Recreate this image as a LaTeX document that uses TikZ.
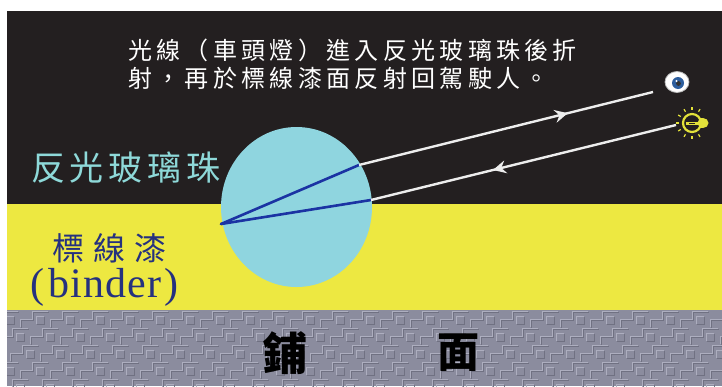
\documentclass[tikz,border=0pt]{standalone}
\usepackage{fontspec}
\setmainfont{Liberation Serif}
\newfontfamily\cjk{Noto Sans CJK TC}
\usetikzlibrary{shapes.geometric,arrows.meta,decorations.markings}

\definecolor{night}{HTML}{231F20}
\definecolor{lane}{HTML}{EDE841}
\definecolor{pave}{HTML}{8B8C9E}
\definecolor{paveLight}{HTML}{ADAEBF}
\definecolor{paveDark}{HTML}{707182}
\definecolor{beadfill}{HTML}{8FD5DF}
\definecolor{ray}{HTML}{1B33A3}
\definecolor{beam}{HTML}{EDEDED}
\definecolor{labelcyan}{HTML}{8ED9D9}
\definecolor{navy}{HTML}{25317F}
\definecolor{lampyellow}{HTML}{E2E13A}
\definecolor{irisblue}{HTML}{2D5E9E}

\tikzset{
  txt/.style={inner sep=0pt, anchor=base west},
  refract/.style={draw=ray, line width=2.6pt, line cap=round},
  beamline/.style={draw=beam, line width=2.4pt},
  midarrow/.style={postaction={decorate}, decoration={markings,
      mark=at position #1 with {\arrow[beam]{Stealth[length=13pt,width=13pt,inset=4.5pt]}}}},
}

\begin{document}
\begin{tikzpicture}[x=1pt,y=-1pt]
  % canvas and layers: night sky, lane marking paint, pavement
  \fill[white] (0,0) rectangle (722,386);
  \useasboundingbox (0,0) rectangle (722,386);
  \fill[night] (7,11) rectangle (722,205);
  \fill[lane] (7,204) rectangle (722,311);

  % pavement texture: embossed stepped blocks
  \begin{scope}
    \clip (7,310) rectangle (722,386);
    \fill[pave] (7,310) rectangle (722,386);
    \foreach \r in {0,...,4}{
      \foreach \c in {0,...,25}{
        \pgfmathsetmacro\xx{-10+30*\c+10*mod(\r,3)}
        \pgfmathsetmacro\yy{311+17*\r}
        % stepped ridge
        \draw[paveDark, line width=1pt] (\xx+1,\yy+17) |- (\xx+13,\yy+9) |- (\xx+29,\yy+1);
        \draw[paveLight, line width=1pt] (\xx,\yy+16) |- (\xx+12,\yy+8) |- (\xx+28,\yy);
        % small raised square
        \draw[paveLight, line width=0.8pt] (\xx+16,\yy+13) |- (\xx+24,\yy+5);
        \draw[paveDark, line width=0.8pt] (\xx+16.5,\yy+13.5) -| (\xx+24.5,\yy+5.5);
      }
    }
  \end{scope}

  % glass bead
  \node[ellipse, fill=beadfill, minimum width=151pt, minimum height=160pt, inner sep=0pt] (bead) at (296.5,207) {};

  % points where light meets the bead surface
  \coordinate (back) at (221,224);
  \coordinate (outpt) at (359,165);
  \coordinate (inpt) at (371,200);
  \coordinate (eyeend) at (653,92);
  \coordinate (lampend) at (676,125);

  % light path inside the bead
  \draw[refract] (back) -- (outpt);
  \draw[refract] (back) -- (inpt);

  % incoming and returning beams
  \draw[beamline, midarrow=0.71] (outpt) -- (eyeend);
  \draw[beamline, midarrow=0.60] (lampend) -- (inpt);

  % driver's eye
  \node[ellipse, fill=white, draw=gray!55, line width=0.8pt, minimum width=24pt, minimum height=21pt, inner sep=0pt] (eye) at (677,82) {};
  \fill[irisblue] (678,83) circle (6pt);
  \fill[black!80] (678.5,83.5) circle (2.4pt);
  \fill[white] (676.5,81) circle (1.1pt);

  % headlamp
  \node[circle, draw=lampyellow, line width=2.2pt, minimum size=18pt, inner sep=0pt] (lamp) at (692,123) {};
  \fill[lampyellow] (699,118) rectangle (703,128);
  \fill[lampyellow] (703,123) ellipse [x radius=5.5pt, y radius=5pt];
  \draw[lampyellow, line width=3pt] (686,123) -- (699,123);
  \draw[night, line width=0.8pt] (689,123) -- (695,123);
  \foreach \a in {60,90,...,300}{
    \draw[lampyellow, line width=1.2pt] (lamp.center) ++(\a:13pt) -- ++(\a:3pt);
  }

  % caption
  \node[txt, text=white, font=\cjk\fontsize{24}{28}\selectfont\addfontfeature{LetterSpace=18}] (title1) at (128,59) {光線（車頭燈）進入反光玻璃珠後折};
  \node[txt, text=white, font=\cjk\fontsize{24}{28}\selectfont\addfontfeature{LetterSpace=18}] (title2) at (128,87) {射，再於標線漆面反射回駕駛人。};

  % layer labels
  \node[txt, text=labelcyan, font=\cjk\fontsize{34}{40}\selectfont\addfontfeature{LetterSpace=14}] (beadlabel) at (31,180) {反光玻璃珠};
  \node[txt, text=navy, font=\cjk\fontsize{32}{38}\selectfont\addfontfeature{LetterSpace=28}] (paintlabel) at (52,260) {標線漆};
  \node[txt, text=navy, font=\fontsize{42}{48}\selectfont\addfontfeature{LetterSpace=3}] (binderlabel) at (30,297) {(\kern4pt binder\kern3pt)};
  \node[inner sep=0pt, font=\cjk\bfseries\fontsize{45}{50}\selectfont] (pave1) at (285,353) {鋪};
  \node[inner sep=0pt, font=\cjk\bfseries\fontsize{42}{50}\selectfont] (pave2) at (458,353) {面};
\end{tikzpicture}
\end{document}
